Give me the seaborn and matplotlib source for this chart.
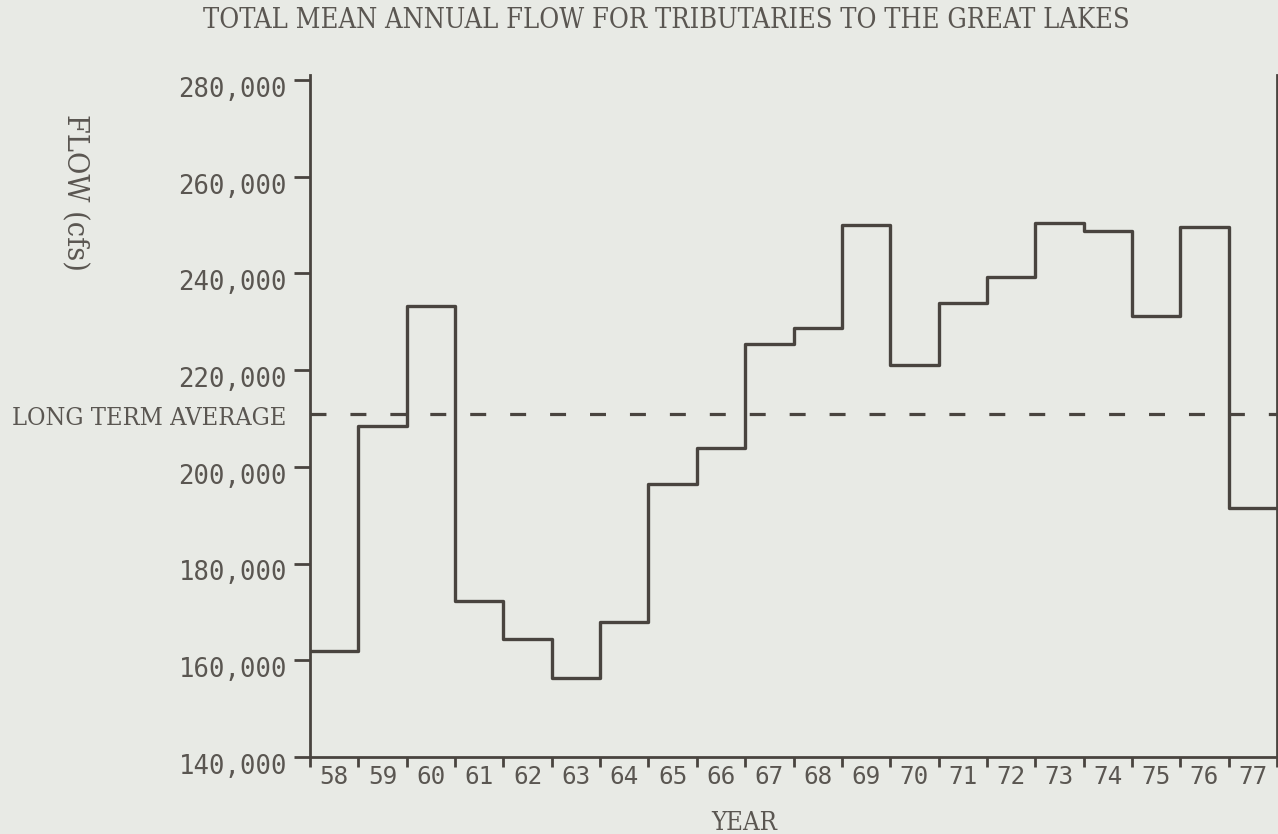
import numpy as np
import pandas as pd
import matplotlib
matplotlib.use("Agg")
import matplotlib.pyplot as plt
import seaborn as sns
from matplotlib.transforms import ScaledTranslation, blended_transform_factory

# Total mean annual flow (cfs), one value per water year
years = ["58", "59", "60", "61", "62", "63", "64", "65", "66", "67",
         "68", "69", "70", "71", "72", "73", "74", "75", "76", "77"]
flow_cfs = [162000, 208500, 233200, 172200, 164400, 156300, 168000, 196400,
            203800, 225300, 228700, 250000, 221000, 233900, 239300, 250400,
            248700, 231200, 249500, 191400]
long_term_average = 211000
y_ticks = [140000, 160000, 180000, 200000, 220000, 240000, 260000, 280000]

paper = "#e8eae5"
ink = "#49443f"
text_ink = "#5a5651"

sns.set_theme(style="ticks")
plt.rcParams["font.family"] = ["DejaVu Sans Mono"]

W, H = 1278, 834
fig = plt.figure(figsize=(W / 100, H / 100), dpi=100, facecolor=paper)
x0, x1, y_top, y_bot = 310, 1277, 75, 757
ax = fig.add_axes([x0 / W, 1 - y_bot / H, (x1 - x0) / W, (y_bot - y_top) / H])
ax.set_facecolor(paper)

# step outline: each year occupies one unit-wide bin
edges = np.arange(len(years) + 1)
df = pd.DataFrame({"edge": edges, "flow": flow_cfs + [flow_cfs[-1]]})
sns.lineplot(data=df, x="edge", y="flow", drawstyle="steps-post",
             color=ink, lw=2.4, ax=ax, zorder=3)

# long-term average
ax.axhline(long_term_average, color=ink, lw=2.3,
           linestyle=(0, (5.0, 7.5)), dash_capstyle="butt", zorder=2)

ax.set_xlim(0, len(years))
ax.set_ylim(140000, 281000)
ax.set_xlabel("")
ax.set_ylabel("")

# spines
for side in ["left", "bottom", "right"]:
    ax.spines[side].set_color(ink)
    ax.spines[side].set_linewidth(2.0)
ax.spines["top"].set_visible(False)

# x axis: marks at bin edges, year labels centred in the bins
ax.set_xticks(edges)
ax.set_xticklabels([])
ax.set_xticks(edges[:-1] + 0.5, minor=True)
ax.set_xticklabels(years, minor=True)
ax.tick_params(axis="x", which="major", direction="out", length=7.5,
               width=2.0, color=ink)
ax.tick_params(axis="x", which="minor", length=0, pad=6,
               labelsize=17.5, labelcolor=text_ink)

# y axis
ax.set_yticks(y_ticks)
ax.set_yticklabels([f"{v:,}" for v in y_ticks])
ax.tick_params(axis="y", which="major", direction="out", length=11.5,
               width=2.0, color=ink, pad=5, labelsize=18.5,
               labelcolor=text_ink)
ax.tick_params(axis="y", which="minor", left=False)
shift = ScaledTranslation(0, -5 / 72, fig.dpi_scale_trans)
for lab in ax.get_yticklabels():
    lab.set_transform(lab.get_transform() + shift)

caption = dict(family="DejaVu Serif", fontstretch="condensed",
               color=text_ink, fontsize=17)

title = fig.text(666 / W, 1 - 20 / H,
                 "TOTAL MEAN ANNUAL FLOW FOR TRIBUTARIES TO THE GREAT LAKES",
                 ha="center", va="center", **caption)
ylab = fig.text(75 / W, 1 - 192 / H, "FLOW (cfs)", rotation=270,
                ha="center", va="center", **caption)
xlab = fig.text(744 / W, 1 - 823 / H, "YEAR", ha="center", va="center",
                **caption)
trans = blended_transform_factory(ax.transAxes, ax.transData)
avg_lab = ax.annotate("LONG TERM AVERAGE", xy=(0, long_term_average),
                      xycoords=trans, xytext=(-24, -5),
                      textcoords="offset pixels", ha="right", va="center",
                      **caption)

# size each caption to the span it occupies on the page
renderer = fig.canvas.get_renderer()
spans = [(title, 923, "w"), (ylab, 157, "h"), (xlab, 66, "w"),
         (avg_lab, 274, "w")]
for t, span, dim in spans:
    bb = t.get_window_extent(renderer)
    cur = bb.width if dim == "w" else bb.height
    t.set_fontsize(17 * span / cur)

fig.savefig("out.png", dpi=100, facecolor=paper)
